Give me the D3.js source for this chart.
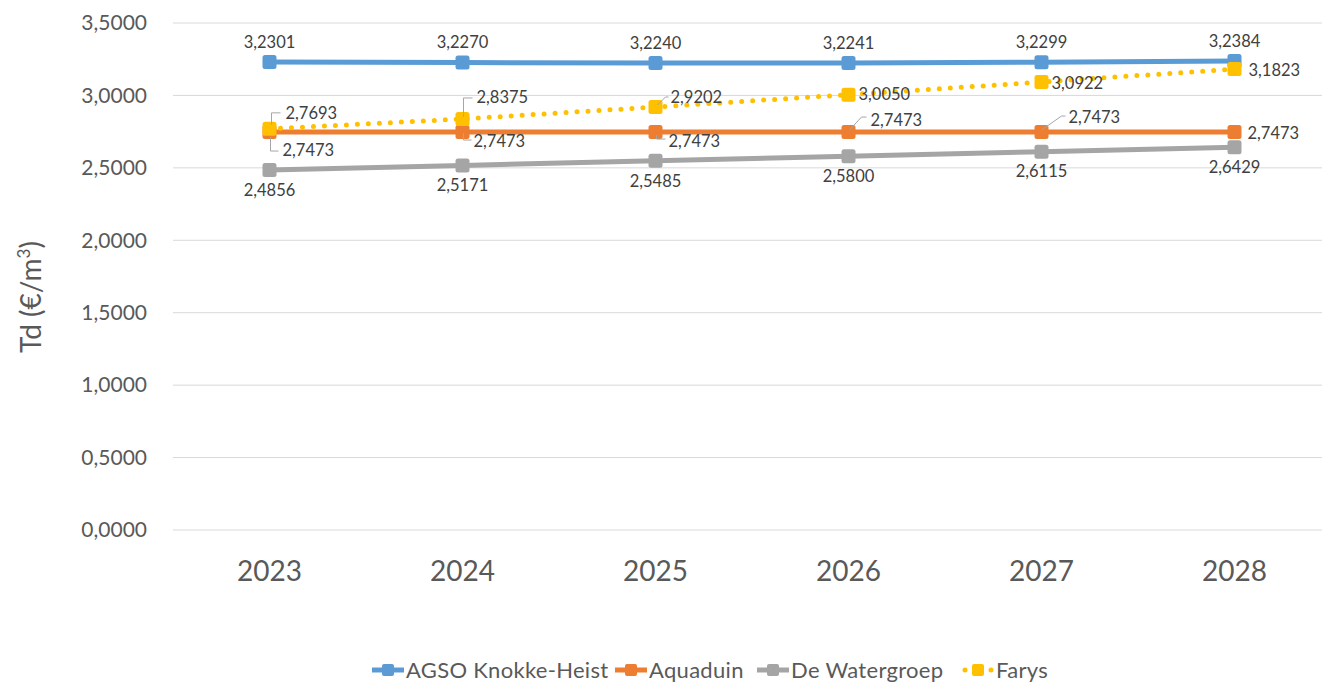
<!DOCTYPE html>
<html>
<head>
<meta charset="utf-8">
<script src="https://cdn.jsdelivr.net/npm/d3@7"></script>
<style>
  body { margin: 0; background: #fff; }
  svg { font-family: Lato, "Open Sans", sans-serif; }
  .grid line { stroke: #d9d9d9; stroke-width: 1; }
  .tick-y { fill: #595959; font-size: 21px; text-anchor: end; }
  .tick-x { fill: #595959; font-size: 28px; text-anchor: middle; }
  .lbl { fill: #404040; font-size: 16.5px; }
  .leader { fill: none; stroke: #a6a6a6; stroke-width: 1; }
  .legend text { fill: #595959; font-size: 22px; letter-spacing: 0.3px; }
</style>
</head>
<body>
<svg id="chart" width="1322" height="682"></svg>
<script>
// chart data
var years = ["2023", "2024", "2025", "2026", "2027", "2028"];
var seriesNames = ["AGSO Knokke-Heist", "Aquaduin", "De Watergroep", "Farys"];
var agso = [3.2301, 3.2270, 3.2240, 3.2241, 3.2299, 3.2384];
var aquaduin = [2.7473, 2.7473, 2.7473, 2.7473, 2.7473, 2.7473];
var watergroep = [2.4856, 2.5171, 2.5485, 2.5800, 2.6115, 2.6429];
var farys = [2.7693, 2.8375, 2.9202, 3.0050, 3.0922, 3.1823];
var yTicks = [0, 0.5, 1, 1.5, 2, 2.5, 3, 3.5];

var colors = ["#5b9bd5", "#ed7d31", "#a5a5a5", "#ffc000"];

// label placement per point: [dx, dy, anchor, leader points]
var lblAgso = years.map(function() { return [0, -20, "middle", null]; });
var lblWater = years.map(function() { return [0, 20, "middle", null]; });
var lblAqua = [
    [13, 18, "start", [[1, 5], [1, 19], [9, 19]]],
    [11, 9, "start", [[1, 1], [1, 8], [9, 8]]],
    [13, 9, "start", [[1, 3], [1, 7], [10, 7]]],
    [22, -12, "start", [[1, -2], [13, -15], [18, -15]]],
    [27, -15, "start", [[0, -2], [20, -16], [24, -16]]],
    [13, 1, "start", null]
];
var lblFarys = [
    [16, -16, "start", [[2, -4], [2, -16], [11, -16]]],
    [14, -22, "start", [[1, -2], [1, -21], [10, -21]]],
    [15, -10, "start", [[2, -2], [10, -10], [13, -10]]],
    [10, 0, "start", null],
    [10, 1, "start", null],
    [14, 1, "start", null]
];

var allSeries = [
    { name: seriesNames[0], values: agso, color: colors[0], dotted: false, labels: lblAgso },
    { name: seriesNames[1], values: aquaduin, color: colors[1], dotted: false, labels: lblAqua },
    { name: seriesNames[2], values: watergroep, color: colors[2], dotted: false, labels: lblWater },
    { name: seriesNames[3], values: farys, color: colors[3], dotted: true, labels: lblFarys }
];

var fmt = function(v) { return v.toFixed(4).replace(".", ","); };

var svg = d3.select("#chart");

var x = d3.scaleBand().domain(years).range([173, 1331]);
var y = d3.scaleLinear().domain([0, 3.5]).range([530, 23]);
var cx = function(i) { return x(years[i]) + x.bandwidth() / 2; };

// gridlines
svg.append("g").attr("class", "grid")
.selectAll("line").data(yTicks).enter().append("line")
.attr("x1", 173).attr("x2", 1322)
.attr("y1", function(d) { return y(d); }).attr("y2", function(d) { return y(d); });

// y tick labels
svg.append("g").selectAll("text").data(yTicks).enter().append("text")
.attr("class", "tick-y")
.attr("x", 147).attr("y", function(d) { return y(d); }).attr("dy", "0.35em")
.text(fmt);

// x tick labels
svg.append("g").selectAll("text").data(years).enter().append("text")
.attr("class", "tick-x")
.attr("x", function(d) { return x(d) + x.bandwidth() / 2; })
.attr("y", 571).attr("dy", "0.35em")
.text(function(d) { return d; });

// axis title
var title = svg.append("text")
.attr("transform", "translate(41,297) rotate(-90)")
.attr("text-anchor", "middle")
.style("font-size", "28px").style("fill", "#595959");
title.append("tspan").text("Td (€/m");
title.append("tspan").attr("dy", "-11").style("font-size", "17px").text("3");
title.append("tspan").attr("dy", "11").text(")");

var line = d3.line()
.x(function(d, i) { return cx(i); })
.y(function(d) { return y(d); });

// series lines and markers
allSeries.forEach(function(s) {
    var g = svg.append("g");
    g.append("path").datum(s.values)
    .attr("d", line)
    .attr("fill", "none")
    .attr("stroke", s.color)
    .attr("stroke-width", 5)
    .attr("stroke-linecap", s.dotted ? "round" : "butt")
    .attr("stroke-dasharray", s.dotted ? "0 11" : null);
    g.selectAll("rect").data(s.values).enter().append("rect")
    .attr("x", function(d, i) { return cx(i) - 7; })
    .attr("y", function(d) { return y(d) - 7; })
    .attr("width", 14).attr("height", 14).attr("rx", 2.5)
    .attr("fill", s.color);
});

// data labels
allSeries.forEach(function(s) {
    var g = svg.append("g");
    s.values.forEach(function(v, i) {
        var px = cx(i), py = y(v), o = s.labels[i];
        if (o[3]) {
            g.append("polyline").attr("class", "leader")
            .attr("points", o[3].map(function(p) { return (px + p[0]) + "," + (py + p[1]); }).join(" "));
        }
        g.append("text").attr("class", "lbl")
        .attr("x", px + o[0]).attr("y", py + o[1]).attr("dy", "0.35em")
        .attr("text-anchor", o[2])
        .text(fmt(v));
    });
});

// legend
var legendX = [372, 615, 757, 962];
var lg = svg.append("g").attr("class", "legend");
allSeries.forEach(function(s, i) {
    var lx = legendX[i], ly = 670;
    lg.append("line")
    .attr("x1", lx).attr("x2", lx + 32).attr("y1", ly).attr("y2", ly)
    .attr("stroke", s.color).attr("stroke-width", 5)
    .attr("stroke-linecap", s.dotted ? "round" : "butt")
    .attr("stroke-dasharray", s.dotted ? "0 26" : null)
    .attr("transform", s.dotted ? "translate(3,0)" : null);
    lg.append("rect")
    .attr("x", lx + 16 - 6).attr("y", ly - 6)
    .attr("width", 12).attr("height", 12).attr("rx", 2)
    .attr("fill", s.color);
    lg.append("text")
    .attr("x", lx + 34).attr("y", ly).attr("dy", "0.35em")
    .text(s.name);
});
</script>
</body>
</html>
